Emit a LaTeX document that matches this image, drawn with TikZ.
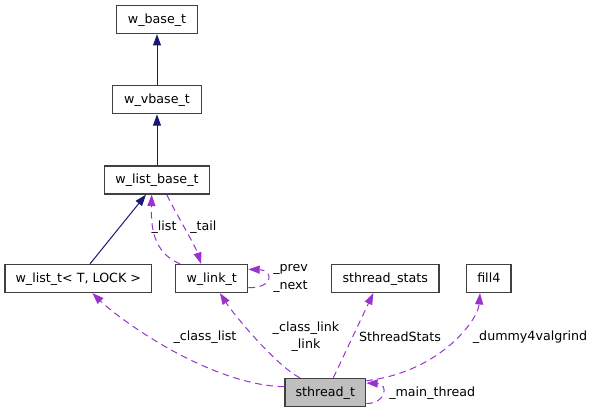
\documentclass[tikz,border=0pt]{standalone}
\usepackage{fontspec}
\setmainfont{DejaVu Sans}
\usepackage{xcolor}
\usepackage{tikz}
\usetikzlibrary{arrows.meta}
\definecolor{inhblue}{HTML}{191970}
\definecolor{usepurple}{HTML}{9A32CD}
\definecolor{boxgray}{HTML}{BFBFBF}

\begin{document}
\begin{tikzpicture}[x=0.75pt,y=0.75pt,yscale=-1,xscale=1,
  cls/.style={draw=black!75,line width=1pt,fill=white,inner sep=0pt,minimum height=21pt,text height=7.2pt,text depth=1.5pt,font=\fontsize{9.5}{11}\selectfont},
  inh/.style={draw=inhblue,line width=0.75pt,-{Triangle[length=8.5pt,width=6pt]}},
  use/.style={draw=usepurple,line width=0.75pt,dash pattern={on 5pt off 3.5pt},-{Triangle[length=8.5pt,width=6pt]}},
  lbl/.style={inner sep=0.75pt,font=\fontsize{9.5}{11}\selectfont}]
\useasboundingbox (0,0) rectangle (593,413); %set diagram to 593 x 413

%Shape: Rectangle
\node [cls,minimum width=60.75pt] (base) at (157,19.5) {w\_base\_t};
%Shape: Rectangle
\node [cls,minimum width=67pt] (vbase) at (157,99.7) {w\_vbase\_t};
%Shape: Rectangle
\node [cls,minimum width=79pt] (listbase) at (157,180) {w\_list\_base\_t};
%Shape: Rectangle
\node [cls,minimum width=110pt] (wlist) at (78.3,278.5) {w\_list\_t< T, LOCK >};
%Shape: Rectangle
\node [cls,minimum width=54pt] (wlink) at (211.7,278.5) {w\_link\_t};
%Shape: Rectangle
\node [cls,minimum width=80.5pt] (stats) at (385.3,278.5) {sthread\_stats};
%Shape: Rectangle
\node [cls,minimum width=33.2pt] (fillfour) at (488.8,278.5) {fill4};
%Shape: Rectangle
\node [cls,minimum width=60.5pt,fill=boxgray] (sthr) at (325.3,392.5) {sthread\_t};

%Straight Lines
\draw [inh] (vbase.north) -- (base.south) ;
%Straight Lines
\draw [inh] (listbase.north) -- (vbase.south) ;
%Straight Lines
\draw [inh] ([xshift=8.8pt]wlist.north) -- ([xshift=-8.3pt]listbase.south) ;
%Curve Lines
\draw [use] ([xshift=7.3pt]listbase.south) .. controls (175,212) and (195,245) .. ([xshift=-8pt]wlink.north) ;
%Curve Lines
\draw [use] ([xshift=-23.8pt]wlink.north) .. controls (152,252) and (151,225) .. ([xshift=-4pt]listbase.south) ;
%Curve Lines
\draw [use] (wlink.-14) .. controls (275,288) and (273,270) .. (wlink.14) ;
%Curve Lines
\draw [use] (sthr.172) .. controls (210,385) and (120,320) .. ([xshift=10.6pt]wlist.south) ;
%Curve Lines
\draw [use] ([xshift=-19pt]sthr.north) .. controls (275,365) and (232,312) .. ([xshift=6.2pt]wlink.south) ;
%Straight Lines
\draw [use] ([xshift=6pt]sthr.north) -- ([xshift=-9pt]stats.south) ;
%Curve Lines
\draw [use] (sthr.16) .. controls (440,372) and (478,320) .. ([xshift=-6.6pt]fillfour.south) ;
%Curve Lines
\draw [use] (sthr.-15) .. controls (386,404) and (389,384) .. (sthr.13) ;

% Text Node
\node [lbl] (lbltail) at (203.3,226.7) {\_tail};
% Text Node
\node [lbl] (lbllist) at (164,226.7) {\_list};
% Text Node
\node [lbl,anchor=west] (lblprev) at (272,269) {\_prev};
% Text Node
\node [lbl,anchor=west] (lblnext) at (272,286.5) {\_next};
% Text Node
\node [lbl] (lblclasslist) at (205,337) {\_class\_list};
% Text Node
\node [lbl] (lblclasslink) at (306,327.7) {\_class\_link};
% Text Node
\node [lbl] (lbllink) at (306,345) {\_link};
% Text Node
\node [lbl] (lblstats) at (400,336.7) {SthreadStats};
% Text Node
\node [lbl] (lbldummy) at (530,336.7) {\_dummy4valgrind};
% Text Node
\node [lbl,anchor=west] (lblmain) at (388,392.7) {\_main\_thread};

\end{tikzpicture}
\end{document}
